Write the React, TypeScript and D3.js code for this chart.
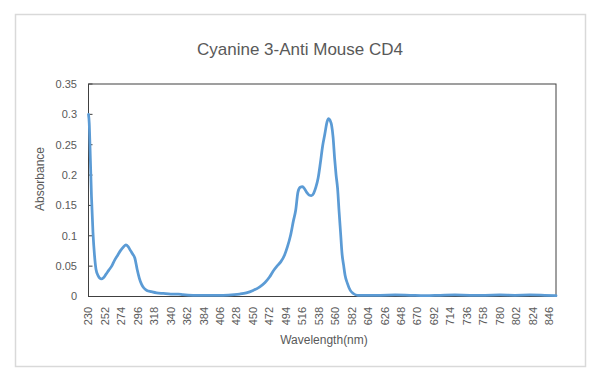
import React from "react";
import * as d3 from "d3";

const wavelengths: number[] = [
  230, 231, 232, 234, 236, 238, 240, 243, 247, 250, 253, 257, 261, 265, 269, 273, 277, 280, 283, 286,
  289, 292, 295, 298, 301, 304, 308, 314, 321, 330, 340, 350, 356, 370, 390, 410, 425, 432, 441, 450,
  459, 466, 472, 477, 482, 487, 492, 496, 500, 504, 507, 510, 513, 516, 519, 522, 525, 528, 531, 534,
  537, 540, 543, 546, 549, 551, 553, 555, 557, 559, 561, 563, 565, 567, 569, 571, 573, 576, 580, 584,
  590, 600, 620, 640, 660, 680, 700, 720, 740, 760, 780, 800, 820, 840, 855,
];
const absorbance: number[] = [
  0.3, 0.285, 0.247, 0.164, 0.105, 0.068, 0.045, 0.034, 0.029, 0.031, 0.036, 0.043, 0.05, 0.06, 0.068, 0.076, 0.082, 0.085, 0.082, 0.076,
  0.07, 0.063, 0.045, 0.03, 0.02, 0.014, 0.01, 0.008, 0.006, 0.005, 0.004, 0.004, 0.003, 0.002, 0.002, 0.002, 0.003, 0.004, 0.006, 0.01,
  0.016, 0.023, 0.032, 0.042, 0.05, 0.057, 0.068, 0.082, 0.1, 0.125, 0.142, 0.172, 0.18, 0.181, 0.177, 0.171, 0.167, 0.166, 0.17, 0.18,
  0.195, 0.22, 0.248, 0.268, 0.288, 0.293, 0.29, 0.282, 0.262, 0.228, 0.2, 0.178, 0.14, 0.105, 0.07, 0.052, 0.035, 0.022, 0.01, 0.005,
  0.002, 0.002, 0.002, 0.0025, 0.002, 0.0015, 0.002, 0.0025, 0.002, 0.002, 0.0025, 0.002, 0.0025, 0.002, 0.0015,
];
const xTickLabels: number[] = d3.range(230, 847, 22);
const yTickValues: number[] = [0, 0.05, 0.1, 0.15, 0.2, 0.25, 0.3, 0.35];

const title = "Cyanine 3-Anti Mouse CD4";
const xTitle = "Wavelength(nm)";
const yTitle = "Absorbance";

export default function App() {
  const W = 600, H = 379;
  const left = 88.5, right = 556, top = 84, bottom = 296.5;
  const x = d3.scaleLinear().domain([230, 855]).range([left, right]);
  const y = d3.scaleLinear().domain([0, 0.35]).range([bottom, top]);
  const pts = wavelengths.map((w, i) => [w, absorbance[i]] as [number, number]);
  const line = d3.line<[number, number]>().x(d => x(d[0])).y(d => y(d[1])).curve(d3.curveMonotoneX);
  const font = "'Liberation Sans', Arial, sans-serif";
  const grey = "#595959";
  return (
    <svg width={W} height={H} style={{ position: "absolute", left: 0, top: 0, background: "#fff" }} fontFamily={font}>
      <rect x={15.5} y={14.5} width={570} height={352} fill="#fff" stroke="#d9d9d9" strokeWidth={1.5} />
      <text x={300} y={55} textAnchor="middle" fontSize={17} fill={grey}>{title}</text>
      <rect x={left} y={top} width={right - left} height={bottom - top} fill="none" stroke="#404040" strokeWidth={1} />
      {yTickValues.map(v => (
        <g key={v}>
          <line x1={left} x2={left + 4} y1={y(v)} y2={y(v)} stroke="#404040" />
          <text x={77} y={y(v)} dy="0.35em" textAnchor="end" fontSize={11} fill={grey}>{v}</text>
        </g>
      ))}
      {xTickLabels.map(t => (
        <text key={t} transform={`translate(${x(t)},307) rotate(-90)`} dy="0.35em" textAnchor="end" fontSize={11} fill={grey}>{t}</text>
      ))}
      <path d={line(pts) || ""} fill="none" stroke="#5B9BD5" strokeWidth={2.75} strokeLinejoin="round" strokeLinecap="round" />
      <text transform={`translate(44,179) rotate(-90)`} textAnchor="middle" fontSize={12} fill={grey}>{yTitle}</text>
      <text x={324} y={344} textAnchor="middle" fontSize={12} fill={grey}>{xTitle}</text>
    </svg>
  );
}
